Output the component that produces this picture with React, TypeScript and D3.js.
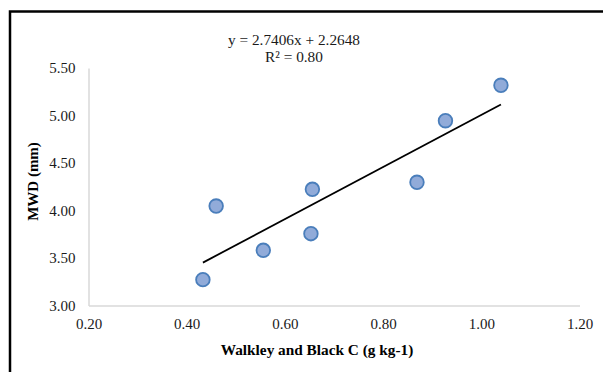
import { useEffect, useRef } from "react";
import * as d3 from "d3";

// Walkley and Black C (g kg-1) vs MWD (mm)
const carbon = [0.433, 0.46, 0.556, 0.653, 0.656, 0.869, 0.927, 1.04];
const mwd = [3.272, 4.047, 3.581, 3.756, 4.223, 4.297, 4.945, 5.318];
const xTicks = [0.2, 0.4, 0.6, 0.8, 1.0, 1.2];
const yTicks = [3.0, 3.5, 4.0, 4.5, 5.0, 5.5];
const slope = 2.7406;
const intercept = 2.2648;
const eqLines = ["y = 2.7406x + 2.2648", "R² = 0.80"];

const W = 603;
const H = 372;
const FONT = "'Liberation Serif', 'Times New Roman', serif";

const App = () => {
  const svgRef = useRef<SVGSVGElement>(null);

  useEffect(() => {
    document.body.style.margin = "0";
    const svg = d3.select(svgRef.current);
    svg.selectAll("*").remove();

    const x = d3.scaleLinear().domain([0.2, 1.2]).range([88.5, 579.5]);
    const y = d3.scaleLinear().domain([3, 5.5]).range([305.5, 68]);

    // outer frame (runs off the right and bottom edges)
    svg
      .append("rect")
      .attr("x", 10)
      .attr("y", 11.5)
      .attr("width", 700)
      .attr("height", 500)
      .attr("fill", "none")
      .attr("stroke", "#000")
      .attr("stroke-width", 2.5);

    const xAxis = d3
      .axisBottom(x)
      .tickValues(xTicks)
      .tickSize(0)
      .tickPadding(13)
      .tickFormat(d3.format(".2f"));
    const yAxis = d3
      .axisLeft(y)
      .tickValues(yTicks)
      .tickSize(0)
      .tickPadding(13)
      .tickFormat(d3.format(".2f"));

    const gx = svg.append("g").attr("transform", `translate(0,${y(3)})`).call(xAxis);
    const gy = svg.append("g").attr("transform", `translate(${x(0.2)},0)`).call(yAxis);

    [gx, gy].forEach((g) => {
      g.select(".domain").attr("stroke", "#d9d9d9").attr("stroke-width", 1.5);
      g.selectAll("text")
        .attr("font-family", FONT)
        .attr("font-size", 15)
        .attr("fill", "#1a1a1a");
    });

    // trendline
    const xs = d3.extent(carbon) as [number, number];
    svg
      .append("line")
      .attr("x1", x(xs[0]))
      .attr("y1", y(slope * xs[0] + intercept))
      .attr("x2", x(xs[1]))
      .attr("y2", y(slope * xs[1] + intercept))
      .attr("stroke", "#000")
      .attr("stroke-width", 1.8);

    // points
    svg
      .selectAll(".pt")
      .data(carbon)
      .join("circle")
      .attr("class", "pt")
      .attr("cx", (d) => x(d))
      .attr("cy", (d, i) => y(mwd[i]))
      .attr("r", 6.8)
      .attr("fill", "#91abd9")
      .attr("stroke", "#4a7ebb")
      .attr("stroke-width", 1.8);

    // equation
    svg
      .append("text")
      .attr("x", 294)
      .attr("y", 45)
      .attr("text-anchor", "middle")
      .attr("font-family", FONT)
      .attr("font-size", 15.3)
      .attr("fill", "#1a1a1a")
      .selectAll("tspan")
      .data(eqLines)
      .join("tspan")
      .attr("x", 294)
      .attr("dy", (d, i) => (i === 0 ? 0 : 17))
      .text((d) => d);

    // axis titles
    svg
      .append("text")
      .attr("x", 317)
      .attr("y", 355)
      .attr("text-anchor", "middle")
      .attr("font-family", FONT)
      .attr("font-size", 15.3)
      .attr("font-weight", "bold")
      .text("Walkley and Black C (g kg-1)");

    svg
      .append("text")
      .attr("text-anchor", "middle")
      .attr("transform", "translate(38,181.5) rotate(-90)")
      .attr("font-family", FONT)
      .attr("font-size", 15)
      .attr("font-weight", "bold")
      .text("MWD (mm)");
  }, []);

  return <svg ref={svgRef} width={W} height={H} style={{ display: "block", background: "#fff" }}></svg>;
};

export default App;
